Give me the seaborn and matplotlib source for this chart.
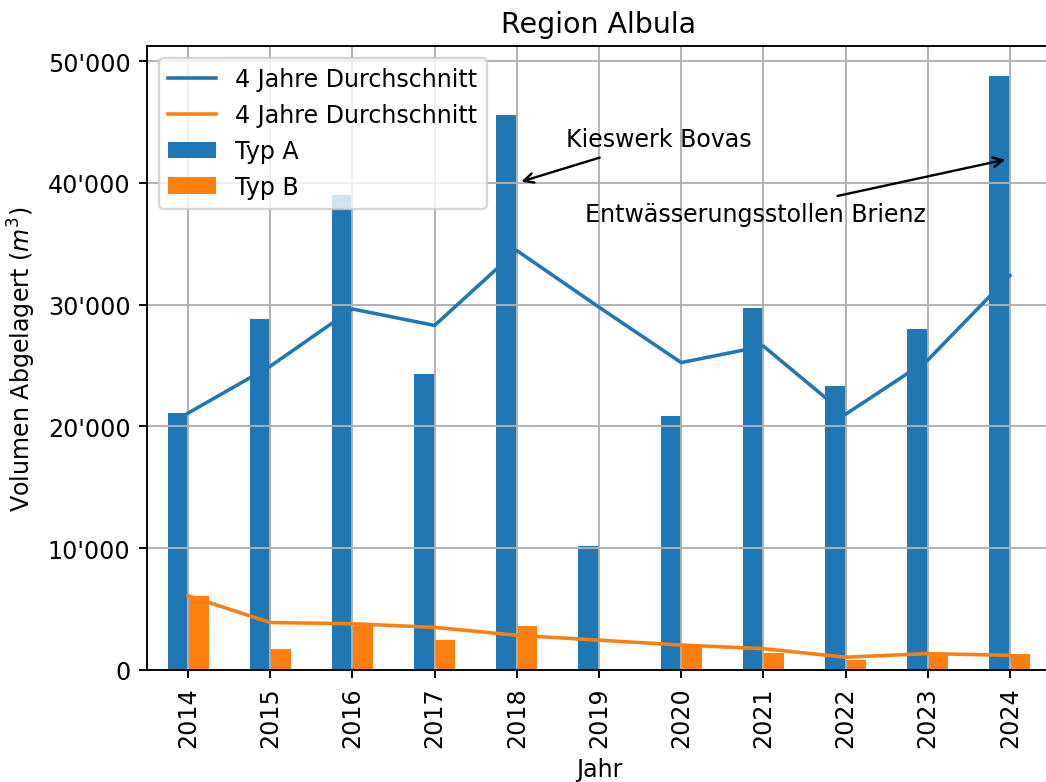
import numpy as np
import pandas as pd
import seaborn as sns
import matplotlib
matplotlib.use("Agg")
import matplotlib.pyplot as plt
from matplotlib.ticker import FuncFormatter

# Jahre und Volumen (m3)
jahre = [2014, 2015, 2016, 2017, 2018, 2019, 2020, 2021, 2022, 2023, 2024]
typ_a = [21100, 28800, 39000, 24300, 45600, 10200, 20900, 29700, 23300, 28000, 48800]
typ_b = [6100, 1700, 3650, 2500, 3600, 0, 2050, 1400, 800, 1200, 1350]

# 4 Jahre Durchschnitt
schnitt_a = [21100, 24950, 29650, 28300, 34450, 29800, 25250, 26600, 21000, 25450, 32400]
schnitt_b = [6100, 3900, 3800, 3500, 2850, 2450, 2050, 1750, 1050, 1350, 1200]

df = pd.DataFrame({
    "Jahr": jahre * 2,
    "Volumen": typ_a + typ_b,
    "Typ": ["Typ A"] * len(jahre) + ["Typ B"] * len(jahre),
})

dpi = 171
fig = plt.figure(figsize=(1046 / dpi, 783 / dpi), dpi=dpi)
ax = fig.add_axes([147 / 1046, 1 - 671 / 783, (1051 - 147) / 1046, (671 - 47) / 783])

sns.barplot(data=df, x="Jahr", y="Volumen", hue="Typ", hue_order=["Typ A", "Typ B"],
            palette=["#1f77b4", "#ff7f0e"], saturation=1, width=0.5, native_scale=True,
            errorbar=None, linewidth=0, legend=False, ax=ax)

sns.lineplot(x=jahre, y=schnitt_a, color="#1f77b4", ax=ax)
sns.lineplot(x=jahre, y=schnitt_b, color="#ff7f0e", ax=ax)

ax.grid(True)
ax.set_xticks(jahre)
ax.set_xticklabels([str(j) for j in jahre], rotation=90)
ax.set_xlim(2013.5, 2024.5)
ax.set_ylim(0, 51250)
ax.yaxis.set_major_formatter(FuncFormatter(lambda v, p: f"{v:,.0f}".replace(",", "'")))

ax.set_title("Region Albula", fontsize=12)
ax.set_xlabel("Jahr")
ax.set_ylabel("Volumen Abgelagert ($m^3$)")

ax.annotate("Kieswerk Bovas", xy=(2018, 40000), xytext=(2018.6, 43000),
            arrowprops=dict(arrowstyle="->"))
ax.annotate("Entwässerungsstollen Brienz", xy=(2024, 42000), xytext=(2018.83, 36900),
            arrowprops=dict(arrowstyle="->"))

handles = [ax.lines[0], ax.lines[1], ax.containers[0], ax.containers[1]]
labels = ["4 Jahre Durchschnitt", "4 Jahre Durchschnitt", "Typ A", "Typ B"]
ax.legend(handles, labels, loc="upper left")

fig.savefig("out.png", dpi=dpi)
